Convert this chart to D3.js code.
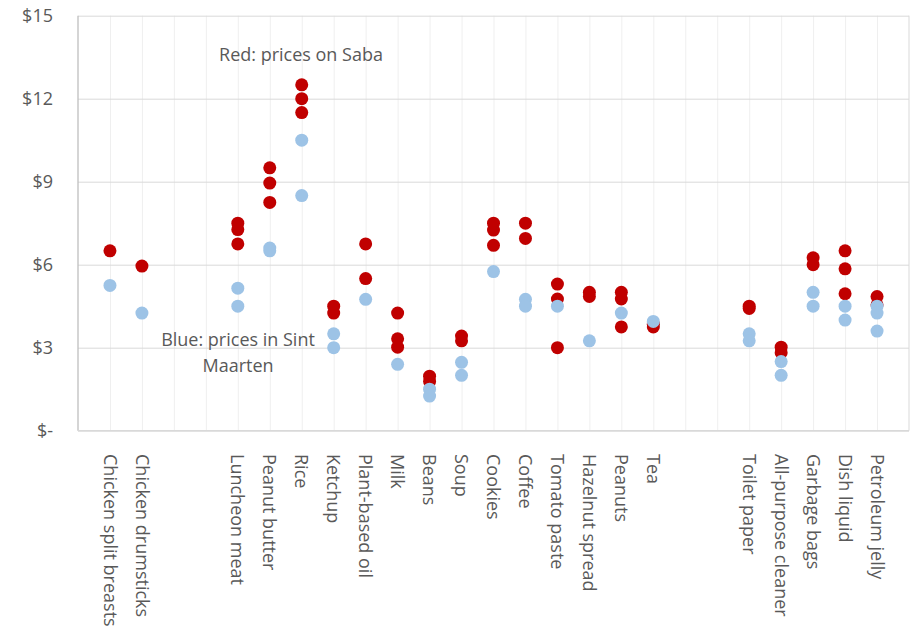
<!DOCTYPE html>
<html>
<head>
<meta charset="utf-8">
<script src="https://cdn.jsdelivr.net/npm/d3@7/dist/d3.min.js"></script>
<style>
  body { margin: 0; background: #fff; }
  svg { display: block; font-family: "Open Sans", sans-serif; }
  .grid line { stroke: #d9d9d9; }
  .vgrid line { stroke: #efefef; }
  .grid path, .vgrid path { display: none; }
</style>
</head>
<body>
<div id="chart"></div>
<script>
// products, one slot each; empty strings are gaps in the category axis
const categories = [
  "Chicken split breasts", "Chicken drumsticks", "", "",
  "Luncheon meat", "Peanut butter", "Rice", "Ketchup", "Plant-based oil",
  "Milk", "Beans", "Soup", "Cookies", "Coffee", "Tomato paste",
  "Hazelnut spread", "Peanuts", "Tea", "", "",
  "Toilet paper", "All-purpose cleaner", "Garbage bags", "Dish liquid", "Petroleum jelly"
];

// red: prices on Saba
const sabaPrices = [
  [6.5], [5.95], [], [],
  [7.5, 7.27, 6.75], [9.5, 8.95, 8.25], [12.5, 12, 11.5], [4.5, 4.25], [6.75, 5.5],
  [4.25, 3.32, 3.02], [1.97, 1.78], [3.42, 3.25], [7.5, 7.25, 6.7], [7.5, 6.95], [5.3, 4.76, 3.0],
  [5.0, 4.85], [5.0, 4.76, 3.75], [3.85, 3.75], [], [],
  [4.5, 4.42], [3.02, 2.82], [6.25, 6.0], [6.5, 5.85, 4.95], [4.85, 4.55]
];

// blue: prices in Sint Maarten
const sxmPrices = [
  [5.25], [4.25], [], [],
  [5.15, 4.5], [6.6, 6.5], [10.5, 8.5], [3.5, 3.0], [4.75],
  [2.4], [1.5, 1.25], [2.47, 2.0], [5.75], [4.75, 4.5], [4.5],
  [3.25], [4.25], [3.95], [], [],
  [3.5, 3.25], [2.5, 2.0], [5.0, 4.5], [4.5, 4.0], [4.5, 4.25, 3.6]
];

const yTicks = [0, 3, 6, 9, 12, 15];

const W = 911, H = 629;
const mLeft = 78, mRight = 909, mTop = 15.7, mBottom = 430.7;
const fontSize = '18px';

const svg = d3.select('#chart').append('svg')
  .attr('width', W).attr('height', H);

const x = d3.scaleLinear().domain([0, categories.length + 1]).range([mLeft, mRight]);
const y = d3.scaleLinear().domain([0, 15]).range([mBottom, mTop]);

// vertical gridlines at each category slot
svg.append('g').attr('class', 'vgrid')
  .attr('transform', `translate(0,${mBottom})`)
  .call(d3.axisBottom(x).tickValues(d3.range(1, categories.length + 1))
    .tickSize(-(mBottom - mTop)).tickFormat(''));

// horizontal gridlines
svg.append('g').attr('class', 'grid')
  .attr('transform', `translate(${mLeft},0)`)
  .call(d3.axisLeft(y).tickValues(yTicks).tickSize(-(mRight - mLeft)).tickFormat(''));

// plot edges
svg.append('line').attr('x1', mLeft).attr('x2', mLeft).attr('y1', mTop).attr('y2', mBottom)
  .attr('stroke', '#bfbfbf').attr('stroke-width', 1.3);
svg.append('line').attr('x1', mRight).attr('x2', mRight).attr('y1', mTop).attr('y2', mBottom)
  .attr('stroke', '#d9d9d9');
svg.append('line').attr('x1', mLeft).attr('x2', mRight).attr('y1', mBottom).attr('y2', mBottom)
  .attr('stroke', '#d9d9d9').attr('stroke-width', 1.3);

// y axis labels
const yAxis = svg.append('g')
  .attr('transform', `translate(${mLeft},0)`)
  .call(d3.axisLeft(y).tickValues(yTicks).tickSize(0).tickPadding(25)
    .tickFormat(d => d === 0 ? '$-' : '$' + d));
yAxis.select('.domain').remove();
yAxis.selectAll('text').attr('fill', '#595959').style('font-size', fontSize)
  .style('font-family', '"Open Sans", sans-serif');

// category labels, rotated
svg.append('g').selectAll('text')
  .data(categories).enter().append('text')
  .attr('transform', (d, i) => `translate(${x(i + 1)},454) rotate(90)`)
  .attr('dy', '0.35em')
  .attr('fill', '#595959').style('font-size', fontSize)
  .text(d => d);

function flatten(arr) {
  const out = [];
  arr.forEach((vals, i) => vals.forEach(v => out.push({i: i + 1, v: v})));
  return out;
}

svg.append('g').selectAll('circle')
  .data(flatten(sabaPrices)).enter().append('circle')
  .attr('cx', d => x(d.i)).attr('cy', d => y(d.v))
  .attr('r', 6.5).attr('fill', '#c00000');

svg.append('g').selectAll('circle')
  .data(flatten(sxmPrices)).enter().append('circle')
  .attr('cx', d => x(d.i)).attr('cy', d => y(d.v))
  .attr('r', 6.5).attr('fill', '#9dc3e6');

// annotations
const note = svg.append('g').attr('fill', '#595959').style('font-size', fontSize)
  .attr('text-anchor', 'middle');
note.append('text').attr('x', 301).attr('y', 61).text('Red: prices on Saba');
note.append('text').attr('x', 238).attr('y', 346).text('Blue: prices in Sint');
note.append('text').attr('x', 238).attr('y', 372).text('Maarten');
</script>
</body>
</html>
